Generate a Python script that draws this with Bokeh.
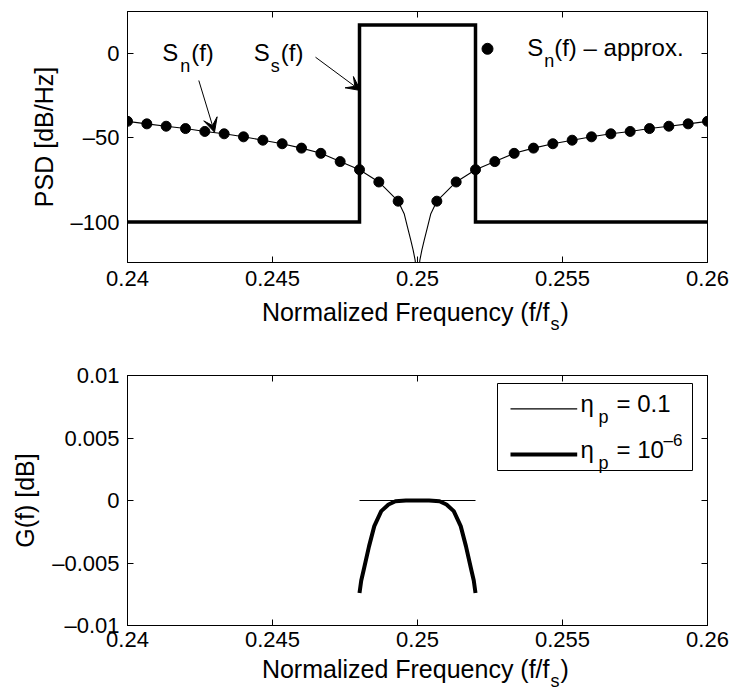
from bokeh.plotting import figure
from bokeh.layouts import column
from bokeh.models import (Range1d, FixedTicker, LinearAxis, Label, Arrow, VeeHead,
                          BoxAnnotation, CustomJSTickFormatter)
from bokeh.embed import file_html
from bokeh.resources import INLINE

FONT = "Liberation Sans"

# ---------------- data ----------------
# S_n(f) approximation dots
f_dots = [0.240000, 0.240667, 0.241333, 0.242000, 0.242667, 0.243333, 0.244000, 0.244667,
          0.245333, 0.246000, 0.246667, 0.247333, 0.248000, 0.248667, 0.249333,
          0.250667, 0.251333, 0.252000, 0.252667, 0.253333, 0.254000, 0.254667,
          0.255333, 0.256000, 0.256667, 0.257333, 0.258000, 0.258667, 0.259333, 0.260000]
sn_dots = [-40.2, -41.7, -43.1, -44.5, -46.2, -47.6, -49.4, -51.4, -53.5, -56.1,
           -59.2, -64.1, -68.9, -76.2, -87.6,
           -87.6, -76.2, -68.9, -64.1, -59.2, -56.1, -53.5, -51.4, -49.4, -47.6,
           -46.2, -44.5, -43.1, -41.7, -40.2]
# S_n(f) exact curve near the notch at 0.25
f_notch_l = [0.24954, 0.249655, 0.24977, 0.24985, 0.24992, 0.24996]
sn_notch_l = [-95.0, -103.0, -110.8, -116.7, -122.7, -132.0]
f_notch_r = [0.25004, 0.25008, 0.25015, 0.25023, 0.250345, 0.25046]
sn_notch_r = [-132.0, -122.7, -116.7, -110.8, -103.0, -95.0]
# S_s(f)
f_ss = [0.240, 0.248, 0.248, 0.252, 0.252, 0.260]
ss_db = [-100.0, -100.0, 17.0, 17.0, -100.0, -100.0]
# G(f), eta_p = 0.1
f_g01 = [0.248, 0.252]
g_01 = [0.0, 0.0]
# G(f), eta_p = 1e-6
f_g6 = [0.24800, 0.24806, 0.24815, 0.24833, 0.24851, 0.24875, 0.24900, 0.24924, 0.24960,
        0.25000, 0.25040, 0.25076, 0.25100, 0.25125, 0.25149, 0.25167, 0.25185, 0.25194, 0.25200]
g_6 = [-0.0074, -0.0064, -0.0055, -0.00365, -0.00205, -0.00085, -0.00032, -0.00006, 0.0,
       0.0, 0.0, -0.00006, -0.00032, -0.00085, -0.00205, -0.00365, -0.0055, -0.0064, -0.0074]

x_ticks = [0.24, 0.245, 0.25, 0.255, 0.26]
x_tick_labels = ["0.24", "0.245", "0.25", "0.255", "0.26"]
psd_ticks = [-100, -50, 0]
psd_tick_labels = ["\u2013100", "\u201350", "0"]
g_ticks = [-0.01, -0.005, 0.0, 0.005, 0.01]
g_tick_labels = ["\u20130.01", "\u20130.005", "0", "0.005", "0.01"]

f_line = f_dots[:15] + f_notch_l + f_notch_r + f_dots[15:]
sn_line = sn_dots[:15] + sn_notch_l + sn_notch_r + sn_dots[15:]

# ---------------- helpers ----------------
FMT_CODE = """
let best = 0, d = Infinity;
for (let i = 0; i < tv.length; i++) {
  const e = Math.abs(tv[i] - tick);
  if (e < d) { d = e; best = i; }
}
return tl[best];
"""

LEFT, RIGHT = 127, 707
BASE_FIX = 0.4   # text sits this fraction of its size lower than the requested baseline


def style_axis(ax, ticks, labels=None, standoff=6):
    ax.ticker = FixedTicker(ticks=ticks)
    ax.major_tick_in = 6
    ax.major_tick_out = 0
    ax.minor_tick_line_color = None
    ax.axis_line_color = "black"
    ax.major_tick_line_color = "black"
    ax.major_label_text_font = FONT
    ax.major_label_text_color = "black"
    if labels is not None:
        ax.formatter = CustomJSTickFormatter(args=dict(tv=list(ticks), tl=list(labels)), code=FMT_CODE)
        ax.major_label_text_font_size = "22px"
        ax.major_label_standoff = standoff
    else:
        ax.formatter = CustomJSTickFormatter(code="return '';")
        ax.major_label_text_font_size = "0px"
        ax.major_label_standoff = 0


def make_fig(frame_h, yr, top, bottom):
    p = figure(frame_width=RIGHT - LEFT, frame_height=frame_h,
               x_range=Range1d(0.24, 0.26), y_range=Range1d(*yr),
               min_border_left=LEFT, min_border_right=731 - RIGHT,
               min_border_top=top, min_border_bottom=bottom,
               output_backend="svg", toolbar_location=None, title=None)
    p.xgrid.visible = False
    p.ygrid.visible = False
    p.outline_line_color = "black"
    p.outline_line_alpha = 1.0
    p.background_fill_color = "white"
    p.border_fill_color = "white"
    return p


def make_strip(h):
    # empty band whose frame spans the same columns as the plots; x in page pixels
    s = figure(frame_width=RIGHT - LEFT, frame_height=h,
               x_range=Range1d(LEFT, RIGHT), y_range=Range1d(h, 0),
               x_axis_type=None, y_axis_type=None,
               min_border_left=LEFT, min_border_right=731 - RIGHT,
               min_border_top=0, min_border_bottom=0,
               output_backend="svg", toolbar_location=None, title=None)
    s.grid.visible = False
    s.outline_line_color = None
    s.background_fill_color = "white"
    s.border_fill_color = "white"
    return s


def txt(p, x, y, text, size=24, dx=0, dy=0, align="left"):
    p.add_layout(Label(x=x, y=y, text=text, x_offset=dx, y_offset=dy + BASE_FIX * size,
                       text_font=FONT, text_font_size=f"{size}px", text_align=align,
                       text_baseline="alphabetic", text_color="black"))


def xlabel(s, base):
    # "Normalized Frequency (f/f_s)" with a real subscript
    txt(s, 549, base, "Normalized Frequency (f/f", size=25, align="right")
    txt(s, 550, base, "s", size=18, dy=-10)
    txt(s, 560, base, ")", size=25)


# ---------------- top plot ----------------
T_T, T_B = 11, 262
T_Y = (-124, 25)
T_BOTTOM = 33
p1 = make_fig(T_B - T_T, T_Y, T_T, T_BOTTOM)


def tx(px):
    return 0.24 + (px - LEFT) / (RIGHT - LEFT) * 0.02


def ty(py):
    return T_Y[1] - (py - T_T) / (T_B - T_T) * (T_Y[1] - T_Y[0])


style_axis(p1.xaxis[0], x_ticks, x_tick_labels, standoff=8)
style_axis(p1.yaxis[0], psd_ticks, psd_tick_labels, standoff=8)
p1.yaxis[0].axis_label = "PSD [dB/Hz]"
p1.yaxis[0].axis_label_text_font = FONT
p1.yaxis[0].axis_label_text_font_size = "25px"
p1.yaxis[0].axis_label_text_font_style = "normal"
p1.yaxis[0].axis_label_text_color = "black"
p1.yaxis[0].axis_label_standoff = 10
ax = LinearAxis()
style_axis(ax, x_ticks)
p1.add_layout(ax, "above")
ax = LinearAxis()
style_axis(ax, psd_ticks)
p1.add_layout(ax, "right")

p1.line(f_ss, ss_db, line_width=3.5, line_color="black", line_join="miter")
p1.line(f_line, sn_line, line_width=1.1, line_color="black")
p1.scatter(f_dots, sn_dots, size=10, fill_color="black", line_color="black")

# annotations
txt(p1, tx(161.7), ty(61.7), "S")
txt(p1, tx(161.7), ty(61.7), "n", size=18, dx=18, dy=-11)
txt(p1, tx(161.7), ty(61.7), "(f)", dx=29)
txt(p1, tx(253.3), ty(61.7), "S")
txt(p1, tx(253.3), ty(61.7), "s", size=18, dx=17, dy=-11)
txt(p1, tx(253.3), ty(61.7), "(f)", dx=27)
p1.add_layout(Arrow(end=VeeHead(size=14, fill_color="black", line_color="black", line_width=1),
                    x_start=tx(198.3), y_start=ty(80), x_end=tx(214), y_end=ty(131.7),
                    line_width=1, line_color="black"))
p1.add_layout(Arrow(end=VeeHead(size=14, fill_color="black", line_color="black", line_width=1),
                    x_start=tx(315), y_start=ty(56.7), x_end=tx(360), y_end=ty(90),
                    line_width=1, line_color="black"))
# legend of the dots
p1.scatter([tx(487)], [ty(48.3)], size=11, fill_color="black", line_color="black")
txt(p1, tx(526.7), ty(56.7), "S")
txt(p1, tx(526.7), ty(56.7), "n", size=18, dx=17, dy=-11)
txt(p1, tx(526.7), ty(56.7), "(f) \u2013 approx.", dx=27)

# strip holding the top x-axis label
top_end = T_B + T_BOTTOM          # 295
s1_h = 355 - top_end              # 60
s1 = make_strip(s1_h)
xlabel(s1, 321 - top_end)

# ---------------- bottom plot ----------------
B_T, B_B = 375, 625
B_Y = (-0.01, 0.01)
B_BOTTOM = 31
p2 = make_fig(B_B - B_T, B_Y, B_T - 355, B_BOTTOM)


def bx(px):
    return 0.24 + (px - LEFT) / (RIGHT - LEFT) * 0.02


def by(py):
    return B_Y[1] - (py - B_T) / (B_B - B_T) * (B_Y[1] - B_Y[0])


style_axis(p2.xaxis[0], x_ticks, x_tick_labels, standoff=6)
style_axis(p2.yaxis[0], g_ticks, g_tick_labels, standoff=8)
p2.yaxis[0].axis_label = "G(f) [dB]"
p2.yaxis[0].axis_label_text_font = FONT
p2.yaxis[0].axis_label_text_font_size = "25px"
p2.yaxis[0].axis_label_text_font_style = "normal"
p2.yaxis[0].axis_label_text_color = "black"
p2.yaxis[0].axis_label_standoff = 10
ax = LinearAxis()
style_axis(ax, x_ticks)
p2.add_layout(ax, "above")
ax = LinearAxis()
style_axis(ax, g_ticks)
p2.add_layout(ax, "right")

p2.line(f_g01, g_01, line_width=1.2, line_color="black")
p2.line(f_g6, g_6, line_width=4, line_color="black", line_join="round")

# legend box
p2.add_layout(BoxAnnotation(left=bx(497), right=bx(692), top=by(383), bottom=by(470),
                            fill_color="white", fill_alpha=1.0, line_color="black",
                            line_width=1, line_alpha=1.0))
p2.add_layout(Arrow(end=None, x_start=bx(510), y_start=by(408.3), x_end=bx(576.7), y_end=by(408.3),
                    line_width=1.2, line_color="black"))
p2.add_layout(Arrow(end=None, x_start=bx(510), y_start=by(454), x_end=bx(576.7), y_end=by(454),
                    line_width=4, line_color="black"))
txt(p2, bx(580), by(413), "\u03b7")
txt(p2, bx(580), by(413), "p", size=18, dx=18, dy=-11)
txt(p2, bx(580), by(413), "= 0.1", dx=36)
txt(p2, bx(580), by(458.3), "\u03b7")
txt(p2, bx(580), by(458.3), "p", size=18, dx=18, dy=-11)
txt(p2, bx(580), by(458.3), "= 10", dx=36)
txt(p2, bx(580), by(458.3), "\u20136", size=17, dx=83, dy=12)

# strip holding the bottom x-axis label
bot_end = B_B + B_BOTTOM          # 656
s2_h = 694 - bot_end              # 38
s2 = make_strip(s2_h)
xlabel(s2, 678 - bot_end)

layout = column(p1, s1, p2, s2, spacing=0)
open("out.html", "w").write(file_html(layout, INLINE))
